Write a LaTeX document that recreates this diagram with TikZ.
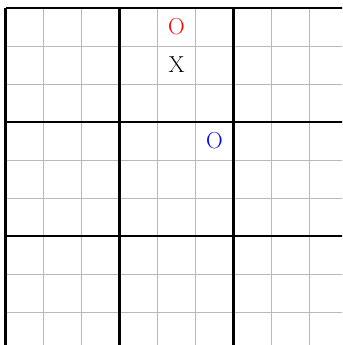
\documentclass[tikz,border=0pt]{standalone}
\usepackage{tikz}
\usetikzlibrary{positioning}

\begin{document}
\begin{tikzpicture}[
    font=\LARGE,
    thin line/.style={
        draw=gray!55,
        line width=0.6pt
    },
    box line/.style={
        draw=black,
        line width=1.6pt
    },
    mark o/.style={
        text=red,
        inner sep=0pt
    },
    mark x/.style={
        text=black,
        inner sep=0pt
    },
    mark q/.style={
        text=blue,
        inner sep=0pt
    }
]

\useasboundingbox (-0.145,0.132) rectangle (8.855,9.21);
\clip (-0.145,0.132) rectangle (8.855,9.21);

% cell lines
\foreach \i in {0,...,9} {
    \draw[thin line] (\i,0) -- (\i,9);
    \draw[thin line] (0,\i) -- (9,\i);
}

% box lines
\foreach \i in {0,3,6,9} {
    \draw[box line] (\i,0) -- (\i,9);
    \draw[box line] (0,\i) -- (9,\i);
}

\node[mark o] (redo) at (4.5,8.5) {O};
\node[mark x] (cross) at (4.5,7.5) {X};
\node[mark q] (blueo) at (5.5,5.5) {O};

\end{tikzpicture}
\end{document}
